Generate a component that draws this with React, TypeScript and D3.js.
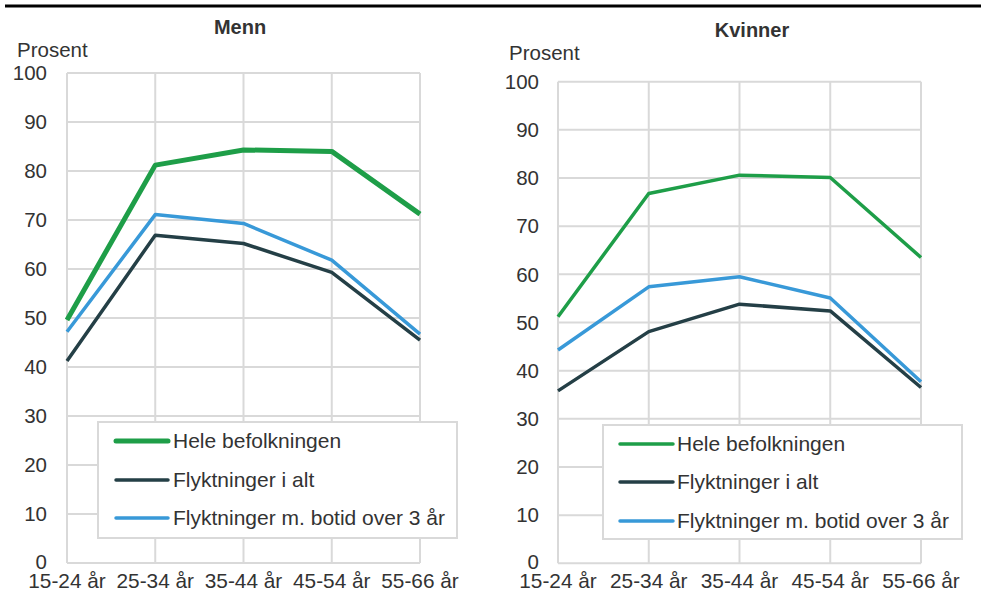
import React from "react";
import * as d3 from "d3";

const categories = ["15-24 år", "25-34 år", "35-44 år", "45-54 år", "55-66 år"];
const yTicks = [0, 10, 20, 30, 40, 50, 60, 70, 80, 90, 100];
const seriesNames = ["Hele befolkningen", "Flyktninger i alt", "Flyktninger m. botid over 3 år"];
const seriesColors = ["#1e9e48", "#243f46", "#3899d8"];

const mennHele = [49.6, 81.2, 84.3, 84.0, 71.2];
const mennFlyktAlt = [41.2, 66.9, 65.2, 59.3, 45.5];
const mennBotid = [47.2, 71.1, 69.3, 61.8, 46.7];

const kvinnerHele = [51.2, 76.8, 80.6, 80.1, 63.5];
const kvinnerFlyktAlt = [35.8, 48.1, 53.8, 52.4, 36.5];
const kvinnerBotid = [44.3, 57.4, 59.5, 55.1, 37.7];

const FONT = "'Liberation Sans', Arial, sans-serif";
const TEXT = "#333333";
const GRID = "#d9d9d9";

type PanelProps = {
  title: string;
  series: number[][];
  x0: number; x1: number; yTop: number; yBottom: number;
  titleX: number; titleY: number;
  prosentX: number; prosentY: number;
  tickRight: number;
  legend: { x: number; y: number; w: number; h: number; lineX0: number; lineX1: number; textX: number; rows: number[] };
  widths: number[];
};

function Panel(p: PanelProps) {
  const x = d3.scalePoint<string>().domain(categories).range([p.x0, p.x1]);
  const y = d3.scaleLinear().domain([0, 100]).range([p.yBottom, p.yTop]);
  const line = d3.line<number>().x((_, i) => x(categories[i]) as number).y((d) => y(d));
  return (
    <g>
      <text x={p.titleX} y={p.titleY} textAnchor="middle" fontWeight="bold" fontSize={20} fill={TEXT} fontFamily={FONT}>{p.title}</text>
      <text x={p.prosentX} y={p.prosentY} fontSize={20.5} fill={TEXT} fontFamily={FONT}>Prosent</text>
      {yTicks.map((t) => (
        <line key={"h" + t} x1={p.x0} x2={p.x1} y1={y(t)} y2={y(t)} stroke={GRID} strokeWidth={2} />
      ))}
      {categories.map((c) => (
        <line key={"v" + c} x1={x(c)} x2={x(c)} y1={p.yTop} y2={p.yBottom} stroke={GRID} strokeWidth={2} />
      ))}
      {yTicks.map((t) => (
        <text key={"t" + t} x={p.tickRight} y={y(t) - (t === 0 ? 1.5 : 0)} dy="0.35em" textAnchor="end" fontSize={20.5} fill={TEXT} fontFamily={FONT}>{t}</text>
      ))}
      {categories.map((c) => (
        <text key={"c" + c} x={x(c)} y={588} textAnchor="middle" fontSize={20.8} fill={TEXT} fontFamily={FONT}>{c}</text>
      ))}
      {p.series.map((s, i) => (
        <path key={"s" + i} d={line(s) || ""} fill="none" stroke={seriesColors[i]} strokeWidth={p.widths[i]} strokeLinejoin="round" />
      ))}
      <rect x={p.legend.x} y={p.legend.y} width={p.legend.w} height={p.legend.h} fill="#fff" stroke={GRID} strokeWidth={2} />
      {seriesNames.map((n, i) => (
        <g key={"l" + i}>
          <line x1={p.legend.lineX0} x2={p.legend.lineX1} y1={p.legend.rows[i]} y2={p.legend.rows[i]} stroke={seriesColors[i]} strokeWidth={p.widths[i]} strokeLinecap="round" />
          <text x={p.legend.textX} y={p.legend.rows[i]} dy="0.35em" fontSize={21} fill={TEXT} fontFamily={FONT}>{n}</text>
        </g>
      ))}
    </g>
  );
}

export default function App() {
  return (
    <svg width={981} height={592} style={{ position: "absolute", left: 0, top: 0, background: "#fff" }}>
      <rect x={0} y={0} width={981} height={592} fill="#fff" />
      <line x1={5} x2={981} y1={6} y2={6} stroke="#000" strokeWidth={3} />
      <Panel
        title="Menn"
        series={[mennHele, mennFlyktAlt, mennBotid]}
        x0={67} x1={420} yTop={73} yBottom={563}
        titleX={240} titleY={34}
        prosentX={17} prosentY={56.5}
        tickRight={47}
        legend={{ x: 98, y: 422, w: 359, h: 116, lineX0: 116, lineX1: 168, textX: 173, rows: [441, 480, 518] }}
        widths={[5, 3.5, 3.5]}
      />
      <Panel
        title="Kvinner"
        series={[kvinnerHele, kvinnerFlyktAlt, kvinnerBotid]}
        x0={558} x1={921} yTop={81.7} yBottom={563.3}
        titleX={752} titleY={37}
        prosentX={509} prosentY={60}
        tickRight={539}
        legend={{ x: 603, y: 425, w: 359, h: 114, lineX0: 620, lineX1: 673, textX: 677, rows: [444, 482, 521] }}
        widths={[3.5, 3.5, 3.5]}
      />
    </svg>
  );
}
